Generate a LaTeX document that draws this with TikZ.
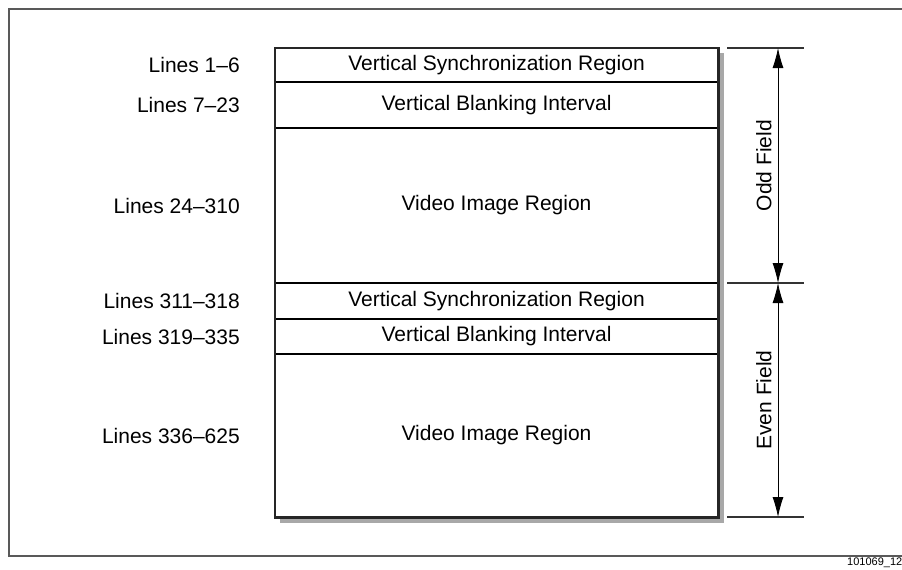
\documentclass[tikz,border=0pt]{standalone}
\usepackage{fontspec}
\setmainfont{Liberation Sans}
\usepackage{tikz}
\usetikzlibrary{arrows.meta,positioning,fit}

\definecolor{framegray}{gray}{0.35}
\definecolor{shadegray}{gray}{0.66}

\begin{document}
\begin{tikzpicture}[x=1pt,y=-1pt,font=\fontsize{21}{25}\selectfont,
  >={Latex[length=20pt,width=11pt]},
  region/.style={draw,line width=1.6pt,fill=white,minimum width=443pt,
    inner sep=0pt,outer sep=0pt,anchor=north,align=center},
  lbl/.style={inner sep=0pt,anchor=east},
  tick/.style={draw=black!80,line width=1.2pt},
  dim/.style={<->,line width=0.8pt},
  fieldname/.style={xshift=-6pt,rotate=90,anchor=south,inner sep=0pt}]
\useasboundingbox (0,0) rectangle (902,570);
% outer frame, cut at the right edge
\draw[framegray,line width=1.5pt] (905,9) -- (9,9) -- (9,556) -- (905,556);
\node[anchor=west,font=\fontsize{11}{13}\selectfont,inner sep=0pt] (fig) at (847,563) {101069\_12};
% odd field
\node[region,minimum height=34pt] (vs1) at (496.5,48) {Vertical Synchronization Region};
\node[region,minimum height=46pt,below=0pt of vs1] (vb1) {Vertical Blanking Interval};
\node[region,minimum height=155pt,below=0pt of vb1] (vi1) {Video Image Region};
% even field
\node[region,minimum height=36pt,below=0pt of vi1] (vs2) {Vertical Synchronization Region};
\node[region,minimum height=35pt,below=0pt of vs2] (vb2) {Vertical Blanking Interval};
\node[region,minimum height=163pt,below=0pt of vb2] (vi2) {Video Image Region};
% shadow and heavy border round the stack
\node[fit=(vs1)(vi2),inner sep=0pt] (stack) {};
\fill[shadegray] ([yshift=-5pt]stack.north east) rectangle ([xshift=6pt,yshift=-6pt]stack.south east);
\fill[shadegray] ([xshift=5pt]stack.south west) rectangle ([xshift=6pt,yshift=-6pt]stack.south east);
\draw[line width=2.6pt,black!85] (stack.north west) rectangle (stack.south east);
% line numbers
\node[lbl,left=35pt of vs1] (l1) {Lines 1--6};
\node[lbl,left=35pt of vb1] (l2) {Lines 7--23};
\node[lbl,left=35pt of vi1] (l3) {Lines 24--310};
\node[lbl,left=35pt of vs2] (l4) {Lines 311--318};
\node[lbl,left=35pt of vb2] (l5) {Lines 319--335};
\node[lbl,left=35pt of vi2] (l6) {Lines 336--625};
% field dimensions
\coordinate (t1) at (727,48);
\coordinate (t2) at (727,283);
\coordinate (t3) at (727,517);
\draw[tick] (t1) -- ++(77,0);
\draw[tick] (t2) -- ++(77,0);
\draw[tick] (t3) -- ++(77,0);
\draw[dim] ([xshift=51pt]t1) -- ([xshift=51pt]t2)
  node[midway,fieldname] (odd) {Odd Field};
\draw[dim] ([xshift=51pt]t2) -- ([xshift=51pt]t3)
  node[midway,fieldname] (even) {Even Field};
\end{tikzpicture}
\end{document}
